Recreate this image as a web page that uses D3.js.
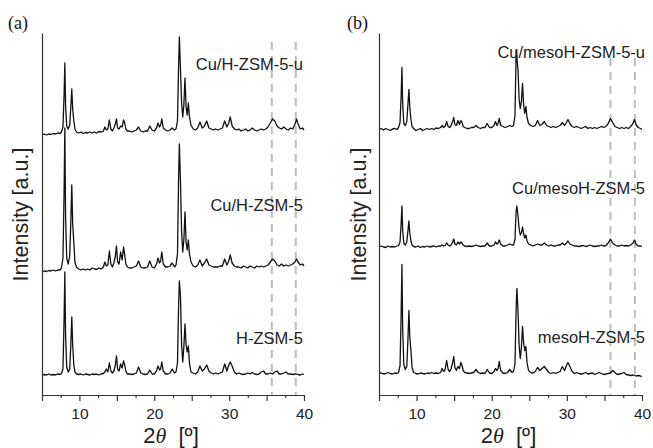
<!DOCTYPE html>
<html>
<head>
<meta charset="utf-8">
<script src="https://cdn.jsdelivr.net/npm/d3@7"></script>
<style>
  body { margin: 0; background: #fff; }
  svg { display: block; font-family: "Liberation Sans", Arial, sans-serif; }
</style>
</head>
<body>
<div id="chart"></div>
<script>
// 2theta positions shared by all six patterns (degrees)
const twoTheta = [
  5.0, 5.3, 5.6, 5.9, 6.2, 6.5, 6.8, 7.1, 7.4, 7.6,
  7.8, 7.95, 8.05, 8.15, 8.3, 8.5, 8.7, 8.85, 8.98, 9.1,
  9.25, 9.4, 9.6, 9.9, 10.2, 10.5, 10.8, 11.1, 11.4, 11.7,
  12.0, 12.3, 12.6, 12.9, 13.2, 13.4, 13.6, 13.8, 14.0, 14.2,
  14.4, 14.6, 14.8, 14.95, 15.1, 15.3, 15.5, 15.7, 15.9, 16.05,
  16.2, 16.4, 16.7, 17.0, 17.3, 17.6, 17.9, 18.2, 18.5, 18.8,
  19.1, 19.4, 19.7, 20.0, 20.3, 20.5, 20.7, 20.85, 21.0, 21.2,
  21.5, 21.8, 22.1, 22.4, 22.7, 22.9, 23.1, 23.25, 23.35, 23.5,
  23.65, 23.8, 23.95, 24.1, 24.25, 24.4, 24.55, 24.7, 24.9, 25.2,
  25.5, 25.8, 26.1, 26.4, 26.7, 27.0, 27.3, 27.6, 27.9, 28.2,
  28.5, 28.8, 29.1, 29.4, 29.7, 29.95, 30.15, 30.4, 30.7, 31.0,
  31.3, 31.6, 31.9, 32.2, 32.5, 32.8, 33.1, 33.4, 33.7, 34.0,
  34.3, 34.6, 34.9, 35.2, 35.5, 35.8, 36.1, 36.4, 36.7, 37.0,
  37.3, 37.6, 37.9, 38.2, 38.5, 38.8, 39.0, 39.2, 39.5, 39.8, 40.0
];

// intensities (a.u.), panel (a)
const cuHZSM5u = [
  0, 1, 0, 1, 0.5, 1.5, 1, 2, 1.5, 3,
  8, 40, 72, 30, 9, 6, 10, 28, 46, 26,
  14, 6, 3, 2, 3, 1.5, 2.5, 2, 3, 2,
  3, 2, 3.5, 3, 4, 8, 5, 6, 15, 6,
  4, 7, 11, 16, 7, 6, 9, 8, 15, 12,
  6, 4, 4, 3, 4, 5, 8, 4, 3, 4,
  4, 9, 5, 4, 7, 12, 8, 10, 16, 7,
  5, 4, 5, 7, 5, 6, 14, 70, 98, 66,
  32, 18, 30, 57, 28, 20, 32, 18, 10, 6,
  5, 7, 13, 7, 9, 14, 7, 6, 5, 6,
  5, 6, 7, 14, 8, 12, 18, 9, 6, 5,
  6, 4, 5, 6, 4, 5, 7, 5, 4, 5,
  6, 5, 6, 8, 12, 16, 14, 9, 7, 6,
  8, 6, 5, 7, 6, 11, 16, 11, 6, 7, 5
];
const cuHZSM5 = [
  0, 1, 0.5, 1.5, 1, 2, 1, 2, 2, 4,
  14, 80, 144, 55, 14, 8, 16, 50, 87, 48,
  30, 10, 5, 3, 2, 3, 2, 3, 2, 4,
  3, 2.5, 4, 3, 5, 10, 6, 7, 21, 8,
  5, 9, 16, 26, 10, 8, 20, 12, 25, 17,
  8, 5, 4, 4, 5, 6, 11, 5, 4, 4,
  5, 11, 5, 4, 8, 14, 9, 11, 20, 8,
  5, 5, 6, 9, 5, 7, 18, 95, 128, 90,
  40, 20, 32, 60, 30, 22, 32, 18, 10, 6,
  5, 7, 12, 6, 9, 13, 7, 6, 5, 5,
  5, 6, 6, 13, 7, 11, 17, 9, 6, 5,
  5, 4, 6, 5, 4, 6, 5, 4, 6, 5,
  6, 5, 6, 7, 10, 13, 11, 7, 6, 8,
  6, 7, 6, 7, 8, 10, 13, 10, 7, 8, 6
];
const hZSM5 = [
  0, 0.5, 0, 1, 0, 0.5, 0, 1, 0.5, 1.5,
  6, 55, 103, 40, 8, 3, 6, 30, 58, 30,
  10, 3, 1, 0.5, 1, 0, 1, 0.5, 0, 1,
  0.5, 1, 0, 1, 1.5, 3, 6, 3, 12, 4,
  2, 4, 10, 19, 6, 4, 11, 7, 14, 10,
  4, 1, 1, 0.5, 1, 2, 8, 2, 1, 0.5,
  1, 5, 1, 1, 4, 9, 5, 6, 13, 4,
  1, 1, 2, 6, 2, 3, 12, 70, 94, 78,
  30, 13, 28, 51, 30, 23, 29, 12, 3, 2,
  1, 3, 9, 4, 6, 10, 4, 2, 1, 2,
  1, 2, 3, 11, 4, 10, 13, 9, 3, 1,
  2, 1, 0.5, 1, 2, 1, 2.5, 1, 0.5, 1,
  3, 4, 1, 1, 2, 1, 3, 4, 1, 1,
  2, 3, 1, 1, 0.5, 1, 1, 0.5, 0, 1, 0.5
];

// intensities (a.u.), panel (b)
const cuMesoHZSM5u = [
  0, 1, -0.5, 1, 0, -1, 0.5, 1, 0, 2,
  7, 35, 62, 26, 6, 4, 8, 25, 40, 22,
  10, 3, 1, -1, 0, 1, -1, 0, 1, 0,
  1, 0, 1.5, 1, 2, 4, 2, 3, 8, 3,
  2, 4, 8, 12, 5, 4, 9, 5, 9, 7,
  3, 2, 1, 1, 2, 2, 4, 2, 1, 2,
  2, 6, 2, 2, 4, 8, 4, 6, 11, 4,
  3, 2, 3, 4, 3, 4, 14, 79, 72, 59,
  30, 21, 28, 46, 24, 16, 23, 12, 6, 4,
  3, 4, 9, 4, 5, 8, 4, 3, 2, 3,
  2, 3, 4, 7, 4, 7, 10, 6, 3, 2,
  3, 2, 1, 2, 3, 1, 2, 1, 2, 1,
  2, 3, 2, 3, 6, 11, 7, 3, 2, 1,
  2, 1, 2, 1, 3, 6, 10, 5, 2, 1, 0
];
const cuMesoHZSM5 = [
  0, 1, 0, -0.5, 1, 0, 0.5, 0, 1, 1.5,
  5, 24, 41, 17, 4, 2, 5, 16, 26, 14,
  6, 2, 0.5, 0, 1, -0.5, 0.5, 0, 1, 0,
  0.5, 1, 0, 1, 1, 2, 1, 1.5, 4, 2,
  1, 2, 5, 8, 3, 2, 5, 3, 5, 4,
  2, 1, 0.5, 1, 0.5, 1, 2, 1, 0.5, 1,
  1, 4, 1, 1, 2, 5, 3, 4, 7, 3,
  1, 1, 2, 3, 2, 2, 8, 36, 41, 31,
  18, 12, 14, 20, 13, 9, 12, 6, 3, 2,
  1, 2, 3, 2, 2, 4, 2, 1, 2, 1,
  1, 2, 2, 4, 2, 4, 6, 3, 2, 1,
  1, 0.5, 1, 1.5, 0.5, 1, 2, 1, 0.5, 1,
  1, 2, 1, 1.5, 4, 8, 4, 2, 1, 1,
  2, 1, 1.5, 1, 2, 4, 7, 3, 1, 1, 0.5
];
const mesoHZSM5 = [
  0, 0.5, -0.5, 0, 1, 0, -0.5, 0.5, 0, 1,
  8, 60, 109, 45, 9, 4, 7, 34, 63, 36,
  23, 6, 1, 0, -0.5, 0.5, 0, -0.5, 0.5, 0,
  1, 0, 0.5, 0, 1, 5, 2, 4, 13, 4,
  2, 5, 11, 17, 6, 3, 7, 5, 11, 8,
  3, 1, 0.5, 0, 0.5, 1, 4, 1, 0, 0.5,
  0, 4, 0.5, 0, 2, 5, 3, 5, 12, 3,
  0.5, 0, 1, 4, 1, 2, 10, 65, 85, 62,
  28, 15, 26, 47, 30, 23, 27, 11, 3, 1,
  0.5, 2, 6, 3, 5, 7, 4, 1, 0, 1,
  0, 1, 2, 7, 3, 8, 11, 7, 2, 0,
  1, 0, -0.5, 0, 1, -0.5, 0, 0.5, -1, 0,
  1, 0, -1, -0.5, 0, 0.5, 3, 1, -1, -0.5,
  0, 1, -1, -1.5, -2, -1.5, -2, -2.5, -2, -2.5, -3
];

const sampleNamesA = ["Cu/H-ZSM-5-u", "Cu/H-ZSM-5", "H-ZSM-5"];
const sampleNamesB = ["Cu/mesoH-ZSM-5-u", "Cu/mesoH-ZSM-5", "mesoH-ZSM-5"];
// vertical stacking offsets (a.u.)
const offsetsA = [260, 123, 20];
const offsetsB = [265.5, 148, 21.5];
// reference lines (degrees)
const dashedA = [35.7, 38.9];
const dashedB = [35.8, 39.05];
const majorTicks = [5, 10, 15, 20, 25, 30, 35, 40];
const minorTicks = [7.5, 12.5, 17.5, 22.5, 27.5, 32.5, 37.5];
const labelledTicks = [10, 20, 30, 40];

const width = 653;
const height = 448;
const axisY = 395;
const axisTop = 33;

const svg = d3.select("#chart").append("svg")
    .attr("width", width)
    .attr("height", height)
    .attr("viewBox", [0, 0, width, height]);

const y = d3.scaleLinear()
    .domain([0, 362])
    .range([axisY, axisTop]);

const panels = [
  {x0: 42, x1: 304, series: [cuHZSM5u, cuHZSM5, hZSM5], names: sampleNamesA,
   offsets: offsetsA, dashed: dashedA, dashTop: 42, tag: "(a)", tagX: 8,
   labelX: 303, labelY: [70, 211, 344], yLabelX: 28},
  {x0: 379, x1: 642, series: [cuMesoHZSM5u, cuMesoHZSM5, mesoHZSM5], names: sampleNamesB,
   offsets: offsetsB, dashed: dashedB, dashTop: 58, tag: "(b)", tagX: 347,
   labelX: 645, labelY: [58, 194, 343], yLabelX: 365.5}
];

panels.forEach(p => {
  const x = d3.scaleLinear()
      .domain([5, 40])
      .range([p.x0, p.x1]);

  // dashed reference lines
  svg.append("g")
      .attr("stroke", "#bdbdbd")
      .attr("stroke-width", 2)
      .attr("stroke-dasharray", "8,6")
    .selectAll("line")
    .data(p.dashed)
    .join("line")
      .attr("x1", d => x(d))
      .attr("x2", d => x(d))
      .attr("y1", p.dashTop)
      .attr("y2", axisY);

  // patterns
  p.series.forEach((s, i) => {
    const line = d3.line()
        .x((d, j) => x(twoTheta[j]))
        .y(d => y(d + p.offsets[i]));
    svg.append("path")
        .datum(s)
        .attr("fill", "none")
        .attr("stroke", "#111")
        .attr("stroke-width", 1.3)
        .attr("stroke-linejoin", "round")
        .attr("d", line);

    svg.append("text")
        .attr("x", p.labelX)
        .attr("y", p.labelY[i])
        .attr("text-anchor", "end")
        .attr("font-size", 16.5)
        .attr("fill", "#222")
        .text(p.names[i]);
  });

  // bottom axis: major ticks with labels, then minor ticks
  svg.append("g")
      .attr("transform", `translate(0,${axisY})`)
      .call(d3.axisBottom(x)
        .tickValues(majorTicks)
        .tickSize(6)
        .tickSizeOuter(0)
        .tickPadding(7)
        .tickFormat(d => labelledTicks.includes(d) ? d : ""))
      .call(g => g.selectAll("line, path").attr("stroke", "#333").attr("stroke-width", 1.2))
      .call(g => g.selectAll("text")
        .attr("font-size", 15.5)
        .attr("font-family", "'Liberation Sans', Arial, sans-serif")
        .attr("fill", "#222"));

  svg.append("g")
      .attr("transform", `translate(0,${axisY})`)
      .call(d3.axisBottom(x)
        .tickValues(minorTicks)
        .tickSize(3)
        .tickSizeOuter(0)
        .tickFormat(""))
      .call(g => g.select(".domain").remove())
      .call(g => g.selectAll("line").attr("stroke", "#333").attr("stroke-width", 1.2));

  // left axis, no ticks
  svg.append("g")
      .attr("transform", `translate(${p.x0},0)`)
      .call(d3.axisLeft(y).tickValues([]).tickSizeOuter(0))
      .call(g => g.select(".domain").attr("stroke", "#333").attr("stroke-width", 1.2));

  // axis titles
  svg.append("text")
      .attr("transform", `translate(${p.yLabelX},214.5) rotate(-90)`)
      .attr("text-anchor", "middle")
      .attr("font-size", 21.5)
      .attr("fill", "#222")
      .text("Intensity [a.u.]");

  const xt = svg.append("text")
      .attr("x", (p.x0 + p.x1) / 2 - 2)
      .attr("y", 443)
      .attr("text-anchor", "middle")
      .attr("font-size", 22)
      .attr("fill", "#222");
  xt.append("tspan").text("2");
  xt.append("tspan")
      .attr("font-family", "'Liberation Serif', 'DejaVu Serif', serif")
      .attr("font-style", "italic")
      .text("\u03b8");
  xt.append("tspan").text("\u00a0 [\u00ba]");

  // panel tag
  svg.append("text")
      .attr("x", p.tagX)
      .attr("y", 28.5)
      .attr("font-family", "'Liberation Serif', 'Times New Roman', serif")
      .attr("font-size", 18)
      .attr("fill", "#111")
      .text(p.tag);
});
</script>
</body>
</html>
